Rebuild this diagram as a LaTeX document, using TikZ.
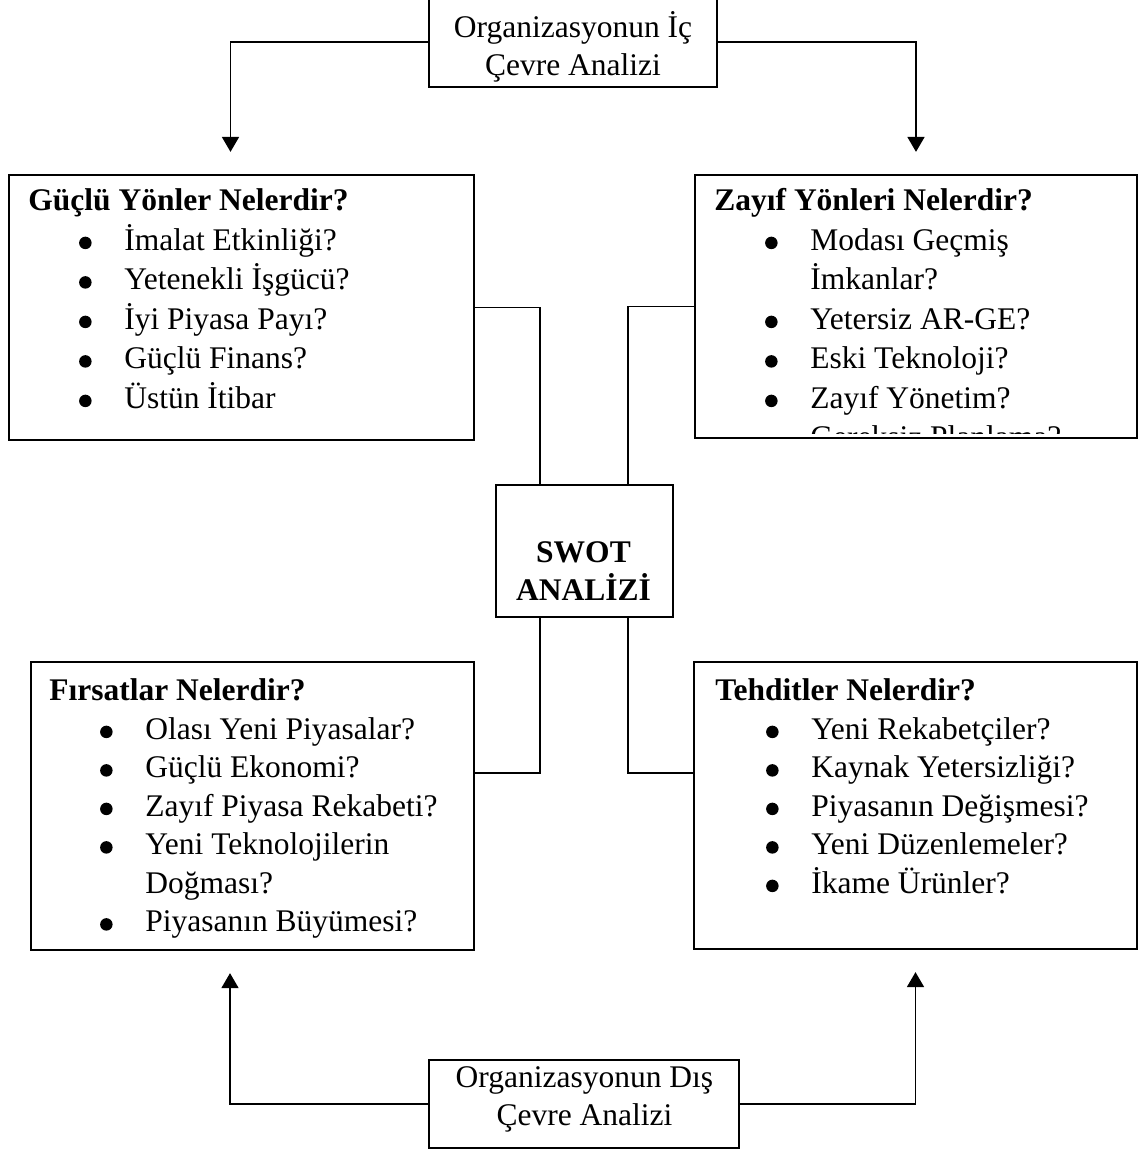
\documentclass[tikz,border=0pt]{standalone}
\usepackage{fontspec}
\setmainfont{Liberation Serif}
\usetikzlibrary{arrows.meta,calc}

\newcommand{\nokta}{\tikz[baseline=-3pt]\fill (0,0) circle (2.5pt);}
\newcommand{\madde}[1]{\hspace*{20.3pt}\makebox[18.1pt][l]{\nokta}#1}
\newcommand{\devam}[1]{\hspace*{38.4pt}#1}

\begin{document}
\begin{tikzpicture}
  [x=0.4pt,y=-0.4pt,
   kutu/.style={draw,line width=0.9pt,inner sep=0pt},
   metin/.style={inner sep=0pt,font=\fontsize{12.6}{15.4}\selectfont},
   genis/.style={metin,font=\fontsize{12.6}{15.8}\selectfont},
   hat/.style={line width=0.7pt},
   ok/.style={hat,-{Triangle[width=6.8pt,length=6pt]},shorten >=8.8pt}]
  \useasboundingbox (0,0) rectangle (1141,1149);

  % kutular
  \node[kutu,minimum width=115.2pt,minimum height=36pt] (ic) at (573,42) {};
  \node[kutu,minimum width=124pt,minimum height=35.2pt] (dis) at (584,1104) {};
  \node[kutu,minimum width=186pt,minimum height=106pt] (guclu) at (241.5,307.5) {};
  \node[kutu,minimum width=176.8pt,minimum height=105.2pt] (zayif) at (916,306.5) {};
  \node[kutu,minimum width=177.2pt,minimum height=115.2pt] (firsat) at (252.5,806) {};
  \node[kutu,minimum width=177.2pt,minimum height=114.8pt] (tehdit) at (915.5,805.5) {};
  \node[kutu,minimum width=70.8pt,minimum height=52.8pt] (swot) at (584.5,551) {};

  % metinler
  \node[metin,anchor=base] (ic-t) at (573,37)
    {\parbox[t]{120pt}{\centering Organizasyonun İç\\Çevre Analizi}};
  \node[metin,anchor=base] (dis-t) at (584.5,1087)
    {\parbox[t]{120pt}{\centering Organizasyonun Dış\\Çevre Analizi}};
  \node[metin,anchor=base] (swot-t) at (583.5,562)
    {\parbox[t]{60pt}{\centering\bfseries SWOT\\ANALİZİ}};
  \node[genis,anchor=base west] (guclu-t) at ($(guclu.north west)+(20,37)$)
    {\parbox[t]{175pt}{\raggedright\textbf{Güçlü Yönler Nelerdir?}\\
      \madde{İmalat Etkinliği?}\\
      \madde{Yetenekli İşgücü?}\\
      \madde{İyi Piyasa Payı?}\\
      \madde{Güçlü Finans?}\\
      \madde{Üstün İtibar}}};
  \begin{scope}
    \clip (zayif.north west) rectangle ($(zayif.south east)+(0,-6)$);
    \node[genis,anchor=base west] (zayif-t) at ($(zayif.north west)+(20,37)$)
      {\parbox[t]{170pt}{\raggedright\textbf{Zayıf Yönleri Nelerdir?}\\
        \madde{Modası Geçmiş}\\
        \devam{İmkanlar?}\\
        \madde{Yetersiz AR-GE?}\\
        \madde{Eski Teknoloji?}\\
        \madde{Zayıf Yönetim?}\\
        \madde{Gereksiz Planlama?}}};
  \end{scope}
  \node[metin,anchor=base west] (firsat-t) at ($(firsat.north west)+(19,40)$)
    {\parbox[t]{170pt}{\raggedright\textbf{Fırsatlar Nelerdir?}\\
      \madde{Olası Yeni Piyasalar?}\\
      \madde{Güçlü Ekonomi?}\\
      \madde{Zayıf Piyasa Rekabeti?}\\
      \madde{Yeni Teknolojilerin}\\
      \devam{Doğması?}\\
      \madde{Piyasanın Büyümesi?}}};
  \node[metin,anchor=base west] (tehdit-t) at ($(tehdit.north west)+(22,40)$)
    {\parbox[t]{170pt}{\raggedright\textbf{Tehditler Nelerdir?}\\
      \madde{Yeni Rekabetçiler?}\\
      \madde{Kaynak Yetersizliği?}\\
      \madde{Piyasanın Değişmesi?}\\
      \madde{Yeni Düzenlemeler?}\\
      \madde{İkame Ürünler?}}};

  % oklar
  \draw[ok] (ic.west) -| ($(guclu.north)+(-11,0)$);
  \draw[ok] (ic.east) -| (zayif.north);
  \draw[ok] (dis.west) -| ($(firsat.south)+(-22.5,0)$);
  \draw[ok] (dis.east) -| (tehdit.south);

  % swot baglantilari
  \draw[hat] (guclu.east) -| ($(swot.north)+(-44.5,0)$);
  \draw[hat] (zayif.west) -| ($(swot.north)+(43.5,0)$);
  \draw[hat] ($(swot.south)+(-44.5,0)$) |- ($(firsat.east)+(0,-33)$);
  \draw[hat] ($(swot.south)+(43.5,0)$) |- ($(tehdit.west)+(0,-32.5)$);
\end{tikzpicture}
\end{document}
